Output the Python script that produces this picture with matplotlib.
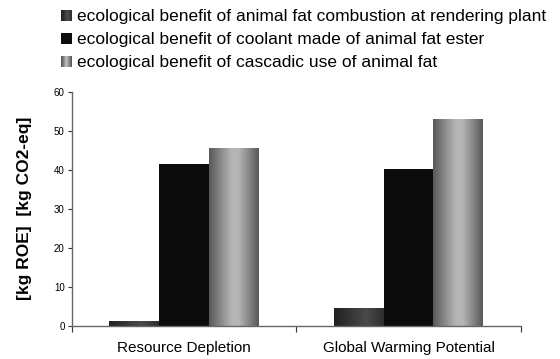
import matplotlib.pyplot as plt
import numpy as np
from matplotlib.patches import Rectangle
from matplotlib.legend_handler import HandlerBase

plt.rcParams['font.family'] = ['Liberation Sans', 'DejaVu Sans']

categories = ["Resource Depletion", "Global Warming Potential"]
series_names = ["ecological benefit of animal fat combustion at rendering plant",
                "ecological benefit of coolant made of animal fat ester",
                "ecological benefit of cascadic use of animal fat"]
combustion = [1.2, 4.6]
coolant = [41.5, 40.2]
cascadic = [45.6, 53.0]
values = [combustion, coolant, cascadic]

# gradient stops across bar width (position, grey level 0..1)
grads = [
    [(0.0, 0.13), (0.65, 0.29), (1.0, 0.18)],
    [(0.0, 0.05), (0.5, 0.05), (1.0, 0.05)],
    [(0.0, 0.35), (0.45, 0.71), (0.6, 0.71), (1.0, 0.35)],
]


def grad_row(stops, n=64):
    pos = [s[0] for s in stops]
    lev = [s[1] for s in stops]
    g = np.interp(np.linspace(0, 1, n), pos, lev)
    return np.dstack([g, g, g])


class GradHandler(HandlerBase):
    def __init__(self, stops):
        super().__init__()
        self.stops = stops

    def create_artists(self, legend, orig_handle, xdescent, ydescent,
                       width, height, fontsize, trans):
        n = 12
        row = grad_row(self.stops, n)[0]
        side = height * 0.9
        x0 = -xdescent + width - side
        arts = []
        for i in range(n):
            r = Rectangle((x0 + side * i / n, -ydescent),
                          side / n + 0.01, side, facecolor=row[i],
                          edgecolor='none', transform=trans)
            arts.append(r)
        return arts


fig = plt.figure(figsize=(5.6, 3.59), dpi=100)
ax = fig.add_axes([0.128, 0.093, 0.802, 0.652])

x = np.arange(len(categories))
w = 0.222
handles = []
for i, vals in enumerate(values):
    bars = ax.bar(x + (i - 1) * w, vals, w, color='none', edgecolor='none')
    img = grad_row(grads[i])
    for b in bars:
        ax.imshow(img, extent=[b.get_x(), b.get_x() + b.get_width(), 0, b.get_height()],
                  aspect='auto', interpolation='bilinear', zorder=2)
    handles.append(bars)

ax.set_xlim(-0.5, 1.5)
ax.set_ylim(0, 60)
ax.set_yticks(range(0, 61, 10))
ax.tick_params(axis='y', labelsize=7, length=3, width=0.8, color='#333333', pad=2)
ax.set_xticks([-0.5, 0.5, 1.5])
ax.set_xticklabels([])
ax.set_xticks(x, minor=True)
ax.set_xticklabels(categories, minor=True, fontsize=11)
ax.tick_params(axis='x', which='major', length=4, width=0.8, color='#333333', direction='out')
ax.tick_params(axis='x', which='minor', length=0, pad=11)
for s in ['top', 'right']:
    ax.spines[s].set_visible(False)
for s in ['left', 'bottom']:
    ax.spines[s].set_color('#666666')
    ax.spines[s].set_linewidth(1.0)

ax.set_ylabel("[kg ROE]  [kg CO2-eq]", fontsize=12.5, fontweight='bold', labelpad=16)

hmap = {h: GradHandler(grads[i]) for i, h in enumerate(handles)}
fig.legend(handles, series_names, loc='upper left', bbox_to_anchor=(0.088, 1.01),
           frameon=False, fontsize=12.5, handler_map=hmap, handlelength=0.6,
           handletextpad=0.3, labelspacing=0.45, borderaxespad=0.3)

fig.savefig("out.png", dpi=100)
